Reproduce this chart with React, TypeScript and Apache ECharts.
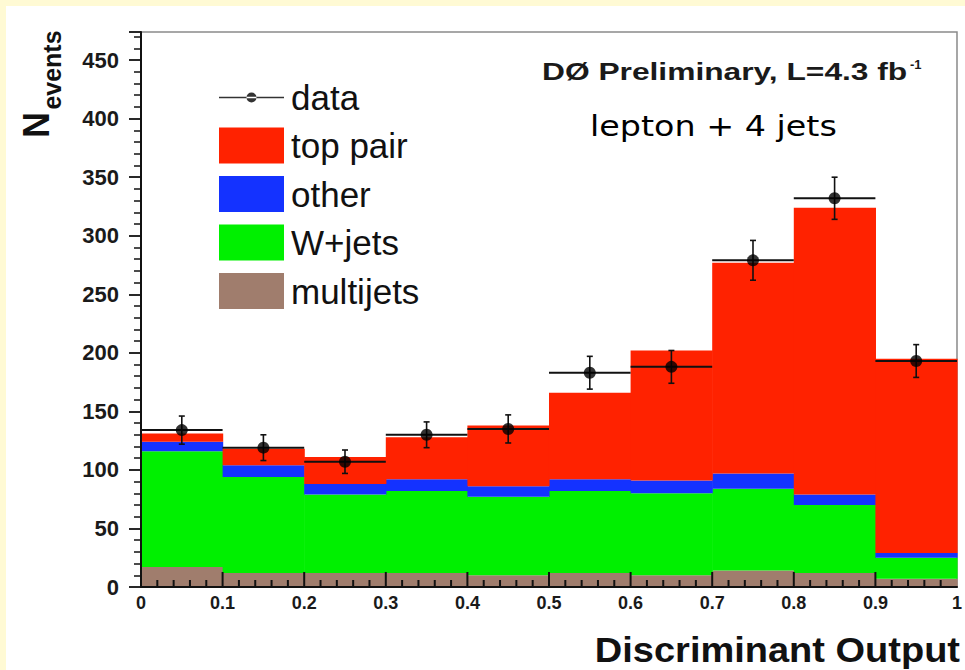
import React, { useEffect, useRef } from "react";
import * as echarts from "echarts";

// ---- data ----
const binStart = [0, 0.1, 0.2, 0.3, 0.4, 0.5, 0.6, 0.7, 0.8, 0.9];
const binWidth = 0.1;
const multijets = [17, 12, 12, 12, 10, 12, 10, 14, 12, 7];
const wjets = [99, 82, 67, 70, 67, 70, 70, 70, 58, 18];
const other = [8, 10, 9, 10, 9, 10, 11, 13, 9, 4];
const topPair = [7, 14, 23, 36, 52, 74, 111, 180, 245, 166];
const dataValues = [134, 119, 107, 130, 135, 183, 188, 279, 332, 193];
const dataErrors = [12, 11, 10, 11, 12, 14, 14, 17, 18, 14];
const xTickLabels = ["0", "0.1", "0.2", "0.3", "0.4", "0.5", "0.6", "0.7", "0.8", "0.9", "1"];

const COLORS = {
  top: "#ff2200",
  other: "#1432ff",
  wjets: "#00f000",
  multi: "#a07d6d",
};

const FONT = '"Liberation Sans", Arial, Helvetica, sans-serif';

export default function App() {
  const ref = useRef<HTMLDivElement>(null);

  useEffect(() => {
    if (!ref.current) return;
    const chart = echarts.init(ref.current, null, { renderer: "svg" });

    // Build stacked bins [x0, x1, yLow, yHigh]
    const comps = [
      { name: "multijets", values: multijets, color: COLORS.multi },
      { name: "W+jets", values: wjets, color: COLORS.wjets },
      { name: "other", values: other, color: COLORS.other },
      { name: "top pair", values: topPair, color: COLORS.top },
    ];
    const base = binStart.map(() => 0);
    const histSeries = comps.map((c) => {
      const d = binStart.map((x0, i) => {
        const lo = base[i];
        const hi = lo + c.values[i];
        base[i] = hi;
        return [x0, x0 + binWidth, lo, hi];
      });
      return {
        type: "custom",
        name: c.name,
        itemStyle: { color: c.color },
        encode: { x: [0, 1], y: [2, 3] },
        z: 2,
        data: d,
        renderItem: (params: any, api: any) => {
          const x0 = api.value(0);
          const x1 = api.value(1);
          const y0 = api.value(2);
          const y1 = api.value(3);
          const p0 = api.coord([x0, y1]);
          const p1 = api.coord([x1, y0]);
          const children: any[] = [
            {
              type: "rect",
              shape: {
                x: p0[0],
                y: p0[1],
                width: p1[0] - p0[0] + 0.6,
                height: p1[1] - p0[1],
              },
              style: { fill: c.color },
            },
          ];
          // ROOT-style inward x-axis ticks drawn over the bottom band
          if (c.name === "multijets") {
            const w = p1[0] - p0[0];
            for (let k = 0; k < 5; k++) {
              const len = k === 0 ? 15 : 7;
              const x = p0[0] + (w * k) / 5;
              children.push({
                type: "rect",
                z2: 50,
                shape: { x: x - 1, y: p1[1] - len, width: 2, height: len },
                style: { fill: "#111" },
              });
            }
          }
          return { type: "group", children };
        },
      };
    });

    // Data error bars (horizontal bar = bin width, vertical = stat. error)
    const errData = binStart.map((x0, i) => [x0, x0 + binWidth, dataValues[i], dataErrors[i]]);
    const errSeries = {
      type: "custom",
      name: "dataErr",
      z: 5,
      encode: { x: [0, 1], y: 2 },
      data: errData,
      renderItem: (params: any, api: any) => {
        const x0 = api.value(0);
        const x1 = api.value(1);
        const y = api.value(2);
        const e = api.value(3);
        const pl = api.coord([x0, y]);
        const pr = api.coord([x1, y]);
        const xc = (pl[0] + pr[0]) / 2;
        const pt = api.coord([(x0 + x1) / 2, y + e]);
        const pb = api.coord([(x0 + x1) / 2, y - e]);
        const st = { stroke: "#111", lineWidth: 2 };
        const stv = { stroke: "#111", lineWidth: 1.6 };
        return {
          type: "group",
          children: [
            { type: "line", shape: { x1: pl[0], y1: pl[1], x2: pr[0], y2: pr[1] }, style: st },
            { type: "line", shape: { x1: xc, y1: pt[1], x2: xc, y2: pb[1] }, style: stv },
            { type: "line", shape: { x1: xc - 3, y1: pt[1], x2: xc + 3, y2: pt[1] }, style: stv },
            { type: "line", shape: { x1: xc - 3, y1: pb[1], x2: xc + 3, y2: pb[1] }, style: stv },
          ],
        };
      },
    };

    const scatterSeries = {
      type: "scatter",
      name: "data",
      symbol: "circle",
      symbolSize: 12,
      itemStyle: { color: "#000" },
      z: 6,
      data: binStart.map((x0, i) => [x0 + binWidth / 2, dataValues[i]]),
    };

    const dataIcon =
      "path://M0 4.2 L65 4.2 L65 5.8 L0 5.8 Z M27.5 5 A5 5 0 1 0 37.5 5 A5 5 0 1 0 27.5 5 Z";

    const option: any = {
      animation: false,
      grid: {
        left: 141,
        right: 3,
        top: 32,
        bottom: 83,
        show: true,
        borderColor: "#8a8a8a",
        borderWidth: 1.5,
        backgroundColor: "transparent",
      },
      legend: {
        orient: "vertical",
        left: 214,
        top: 75,
        itemWidth: 65,
        itemHeight: 36,
        itemGap: 12.5,
        selectedMode: false,
        textStyle: {
          fontSize: 35,
          fontFamily: FONT,
          color: "#111",
          padding: [0, 0, 0, 2],
        },
        data: [
          { name: "data", icon: dataIcon, itemStyle: { color: "#000" } },
          { name: "top pair", icon: "rect" },
          { name: "other", icon: "rect" },
          { name: "W+jets", icon: "rect" },
          { name: "multijets", icon: "rect" },
        ],
      },
      xAxis: {
        type: "value",
        min: 0,
        max: 1,
        interval: 0.1,
        z: 10,
        splitLine: { show: false },
        axisLine: { show: true, onZero: false, lineStyle: { color: "#111", width: 2 } },
        axisTick: { show: false },
        minorTick: { show: false },
        axisLabel: {
          margin: 7,
          fontSize: 18,
          fontWeight: "bold",
          fontFamily: FONT,
          color: "#1a1a1a",
          formatter: (v: number) => xTickLabels[Math.round(v * 10)] ?? "",
        },
      },
      yAxis: {
        type: "value",
        min: 0,
        max: 474,
        interval: 50,
        z: 10,
        axisLine: { show: true, lineStyle: { color: "#111", width: 2 } },
        axisTick: { show: true, inside: false, length: 12, lineStyle: { color: "#111", width: 1.8 } },
        minorTick: { show: true, splitNumber: 5, length: 7, lineStyle: { color: "#111", width: 1.5 } },
        splitLine: { show: false },
        axisLabel: {
          margin: 22,
          fontSize: 22,
          fontWeight: "bold",
          fontFamily: FONT,
          color: "#1a1a1a",
          showMaxLabel: false,
        },
      },
      graphic: [
        {
          type: "text",
          x: 542,
          y: 72,
          scaleX: 1.38,
          style: {
            text: "DØ Preliminary, L=4.3 fb",
            fontSize: 23,
            fontWeight: "bold",
            fontFamily: FONT,
            fill: "#1a1a1a",
            align: "left",
            verticalAlign: "middle",
          },
        },
        {
          type: "text",
          x: 910,
          y: 64,
          style: {
            text: "-1",
            fontSize: 13,
            fontWeight: "bold",
            fontFamily: FONT,
            fill: "#1a1a1a",
            align: "left",
            verticalAlign: "middle",
          },
        },
        {
          type: "text",
          x: 590,
          y: 126,
          scaleX: 1.15,
          style: {
            text: "lepton + 4 jets",
            fontSize: 29,
            fontFamily: '"DejaVu Sans", sans-serif',
            fill: "#000",
            align: "left",
            verticalAlign: "middle",
          },
        },
        {
          type: "text",
          x: 960,
          y: 668,
          scaleX: 1.086,
          style: {
            text: "Discriminant Output",
            fontSize: 35,
            fontWeight: "bold",
            fontFamily: FONT,
            fill: "#111",
            align: "right",
            verticalAlign: "bottom",
          },
        },
        {
          type: "text",
          x: 36,
          y: 125,
          rotation: Math.PI / 2,
          style: {
            text: "N",
            fontSize: 36,
            fontWeight: "bold",
            fontFamily: FONT,
            fill: "#111",
            align: "center",
            verticalAlign: "middle",
          },
        },
        {
          type: "text",
          x: 52,
          y: 70,
          rotation: Math.PI / 2,
          style: {
            text: "events",
            fontSize: 25,
            fontWeight: "bold",
            fontFamily: FONT,
            fill: "#111",
            align: "center",
            verticalAlign: "middle",
          },
        },
      ],
      series: [...histSeries, errSeries, scatterSeries],
    };

    chart.setOption(option);
    return () => {
      chart.dispose();
    };
  }, []);

  return (
    <div
      style={{
        position: "fixed",
        left: 0,
        top: 0,
        width: 965,
        height: 670,
        background: "#fffad4",
        overflow: "hidden",
      }}
    >
      <div
        style={{
          position: "absolute",
          left: 6,
          top: 6,
          right: 0,
          bottom: 0,
          background: "#ffffff",
        }}
      />
      <div
        ref={ref}
        style={{ position: "absolute", left: 0, top: 0, width: 965, height: 670 }}
      />
    </div>
  );
}
